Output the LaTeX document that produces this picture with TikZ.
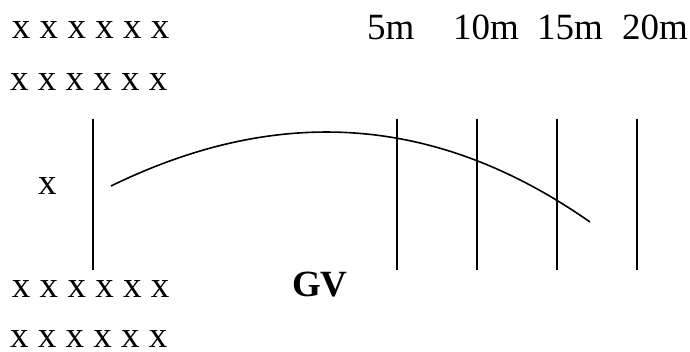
\documentclass[tikz,border=0pt]{standalone}
\usepackage{fontspec}
\setmainfont{Liberation Serif}
\begin{document}
\begin{tikzpicture}[x=1pt,y=-1pt,
  txt/.style={anchor=base west,inner sep=0pt,outer sep=0pt,text depth=0pt,font=\fontsize{37}{40}\selectfont},
  bold/.style={txt,font=\fontsize{37}{40}\selectfont\bfseries},
  mark line/.style={line width=1.6pt,black},
  flight/.style={line width=1.6pt,black}]
\useasboundingbox (0,0) rectangle (690,352);
% rows of x
\node[txt] (r1) at (12,39) {x x x x x x};
\node[txt] (r2) at (10,91) {x x x x x x};
\node[txt] (xs) at (38,195) {x};
\node[txt] (r3) at (12,298) {x x x x x x};
\node[txt] (r4) at (10,347.5) {x x x x x x};
\node[bold] (gv) at (292,297) {GV};
% distance labels
\node[txt] (d5) at (367,40) {5m};
\node[txt] (d10) at (453,40) {10m};
\node[txt] (d15) at (537,40) {15m};
\node[txt] (d20) at (622,40) {20m};
% vertical lines
\foreach \n/\x in {l0/93,l5/397,l10/477,l15/557,l20/637}{
  \coordinate (\n t) at (\x,119);
  \coordinate (\n b) at (\x,270);
  \draw[mark line] (\n t) -- (\n b);
}
% curve
\coordinate (cs) at (111,186);
\coordinate (ce) at (590,222);
\draw[flight] (cs) .. controls (271,108) and (430,110) .. (ce);
\end{tikzpicture}
\end{document}
